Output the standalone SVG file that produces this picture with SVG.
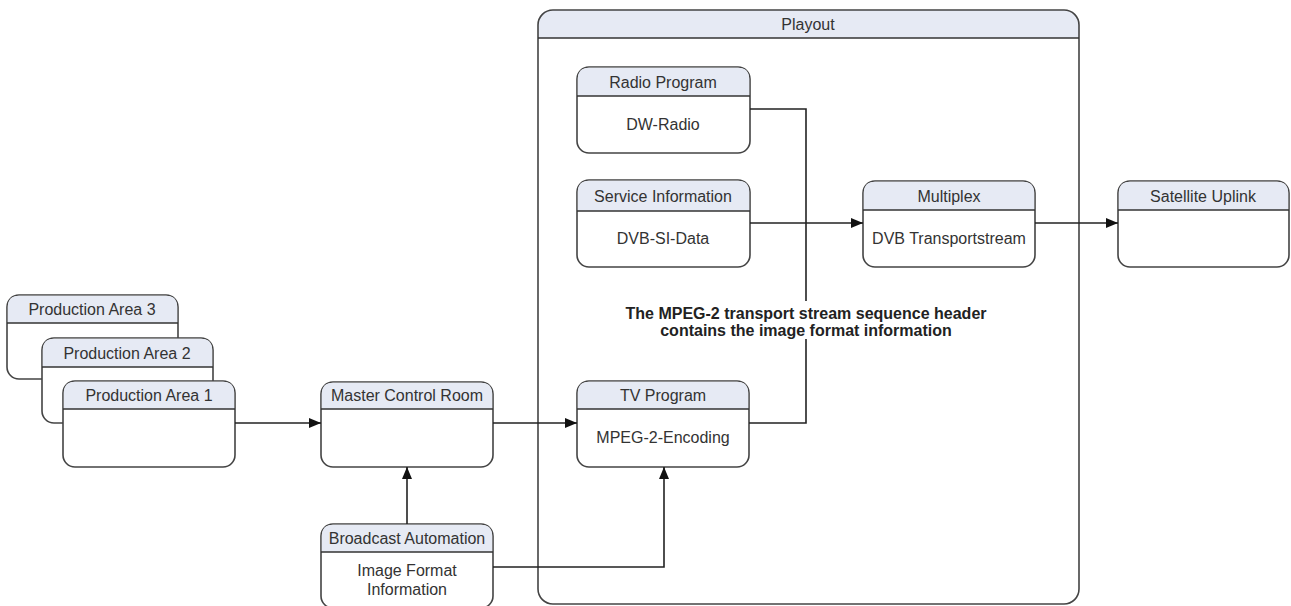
<svg xmlns="http://www.w3.org/2000/svg" width="1291" height="606" viewBox="0 0 1291 606">
<defs>
<marker id="arr" viewBox="0 0 12 10" refX="12" refY="5" markerWidth="12" markerHeight="10" markerUnits="userSpaceOnUse" orient="auto">
<path d="M0,0 L12,5 L0,10 z" fill="#111"/>
</marker>
</defs>
<style>
.box{fill:#fff;stroke:#444;stroke-width:1.6}
.hdr{fill:#e6eaf4}
.sep{stroke:#333;stroke-width:1.6}
.t{font-family:"Liberation Sans",Arial,sans-serif;font-size:16px;fill:#333;text-anchor:middle}
.note{font-family:"Liberation Sans",Arial,sans-serif;font-size:16px;font-weight:bold;fill:#222;text-anchor:middle}
.c{fill:none;stroke:#222;stroke-width:1.6}
</style>
<rect width="1291" height="606" fill="#fff"/>

<g id="playout">
<path class="hdr" d="M538,38 V25 Q538,10 553,10 H1064 Q1079,10 1079,25 V38 Z"/>
<rect class="box" x="538" y="10" width="541" height="594" rx="15" style="fill:none"/>
<line class="sep" x1="538" y1="38" x2="1079" y2="38"/>
<text class="t" x="808" y="30">Playout</text>
</g>

<g id="pa3">
<rect class="box" x="7" y="295" width="171" height="84" rx="12"/>
<path class="hdr" d="M7.8,323 V307 Q7.8,295.8 19,295.8 H166 Q177.2,295.8 177.2,307 V323 Z"/>
<line class="sep" x1="7" y1="323" x2="178" y2="323"/>
<text class="t" x="92" y="315">Production Area 3</text>
</g>
<g id="pa2">
<rect class="box" x="42" y="338" width="171" height="85" rx="12"/>
<path class="hdr" d="M42.8,367 V350 Q42.8,338.8 54,338.8 H201 Q212.2,338.8 212.2,350 V367 Z"/>
<line class="sep" x1="42" y1="367" x2="213" y2="367"/>
<text class="t" x="127" y="359">Production Area 2</text>
</g>
<g id="pa1">
<rect class="box" x="63" y="381" width="172" height="86" rx="12"/>
<path class="hdr" d="M63.8,409 V393 Q63.8,381.8 75,381.8 H223 Q234.2,381.8 234.2,393 V409 Z"/>
<line class="sep" x1="63" y1="409" x2="235" y2="409"/>
<text class="t" x="149" y="401">Production Area 1</text>
</g>

<g id="mcr">
<rect class="box" x="321" y="382" width="172" height="85" rx="12"/>
<path class="hdr" d="M321.8,409 V394 Q321.8,382.8 333,382.8 H481 Q492.2,382.8 492.2,394 V409 Z"/>
<line class="sep" x1="321" y1="409" x2="493" y2="409"/>
<text class="t" x="407" y="401">Master Control Room</text>
</g>

<g id="ba">
<rect class="box" x="321" y="524" width="172" height="84" rx="12"/>
<path class="hdr" d="M321.8,552 V536 Q321.8,524.8 333,524.8 H481 Q492.2,524.8 492.2,536 V552 Z"/>
<line class="sep" x1="321" y1="552" x2="493" y2="552"/>
<text class="t" x="407" y="544">Broadcast Automation</text>
<text class="t" x="407" y="576">Image Format</text>
<text class="t" x="407" y="595">Information</text>
</g>

<g id="radio">
<rect class="box" x="577" y="67" width="173" height="86" rx="12"/>
<path class="hdr" d="M577.8,96 V79 Q577.8,67.8 589,67.8 H738 Q749.2,67.8 749.2,79 V96 Z"/>
<line class="sep" x1="577" y1="96" x2="750" y2="96"/>
<text class="t" x="663" y="88">Radio Program</text>
<text class="t" x="663" y="130">DW-Radio</text>
</g>

<g id="si">
<rect class="box" x="577" y="180" width="173" height="87" rx="12"/>
<path class="hdr" d="M577.8,211 V192 Q577.8,180.8 589,180.8 H738 Q749.2,180.8 749.2,192 V211 Z"/>
<line class="sep" x1="577" y1="211" x2="750" y2="211"/>
<text class="t" x="663" y="202">Service Information</text>
<text class="t" x="663" y="244">DVB-SI-Data</text>
</g>

<g id="tv">
<rect class="box" x="577" y="381" width="172" height="86" rx="12"/>
<path class="hdr" d="M577.8,409 V393 Q577.8,381.8 589,381.8 H737 Q748.2,381.8 748.2,393 V409 Z"/>
<line class="sep" x1="577" y1="409" x2="749" y2="409"/>
<text class="t" x="663" y="401">TV Program</text>
<text class="t" x="663" y="443">MPEG-2-Encoding</text>
</g>

<g id="mux">
<rect class="box" x="863" y="181" width="172" height="86" rx="12"/>
<path class="hdr" d="M863.8,210 V193 Q863.8,181.8 875,181.8 H1023 Q1034.2,181.8 1034.2,193 V210 Z"/>
<line class="sep" x1="863" y1="210" x2="1035" y2="210"/>
<text class="t" x="949" y="202">Multiplex</text>
<text class="t" x="949" y="244">DVB Transportstream</text>
</g>

<g id="sat">
<rect class="box" x="1118" y="181" width="171" height="86" rx="12"/>
<path class="hdr" d="M1118.8,210 V193 Q1118.8,181.8 1130,181.8 H1277 Q1288.2,181.8 1288.2,193 V210 Z"/>
<line class="sep" x1="1118" y1="210" x2="1289" y2="210"/>
<text class="t" x="1203" y="202">Satellite Uplink</text>
</g>

<g id="connectors">
<path class="c" d="M235,423 H321" marker-end="url(#arr)"/>
<path class="c" d="M493,423 H577" marker-end="url(#arr)"/>
<path class="c" d="M407,524 V467" marker-end="url(#arr)"/>
<path class="c" d="M493,567 H664 V467" marker-end="url(#arr)"/>
<path class="c" d="M750,109 H806 V423 H749"/>
<path class="c" d="M750,223 H863" marker-end="url(#arr)"/>
<path class="c" d="M1035,223 H1118" marker-end="url(#arr)"/>
</g>

<g id="note">
<rect x="616" y="301" width="380" height="38" fill="#fff"/>
<text class="note" x="806" y="319">The MPEG-2 transport stream sequence header</text>
<text class="note" x="806" y="336">contains the image format information</text>
</g>
</svg>
